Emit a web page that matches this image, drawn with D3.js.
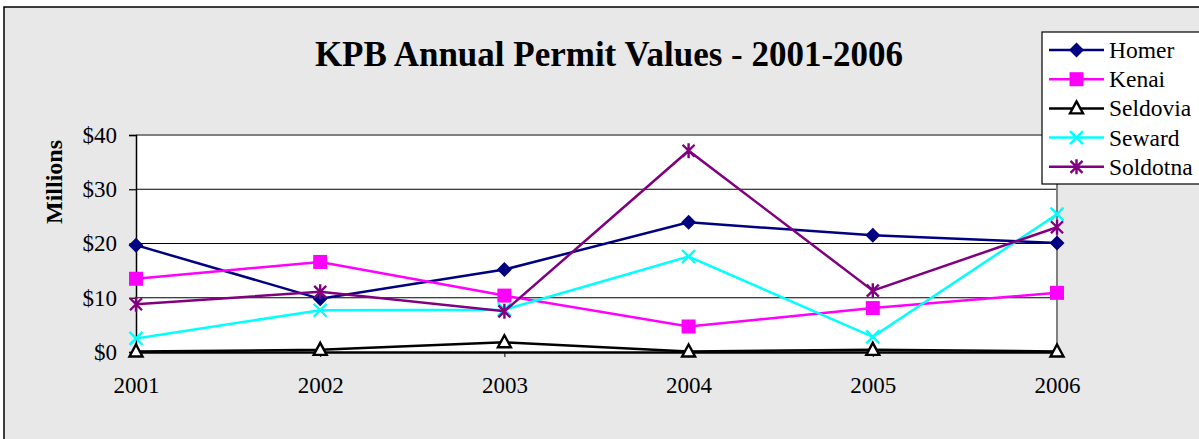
<!DOCTYPE html>
<html><head><meta charset="utf-8">
<script src="https://cdn.jsdelivr.net/npm/d3@7"></script>
<style>html,body{margin:0;padding:0;background:#fff;}svg{display:block;}</style>
</head><body>
<script>
const years = ["2001","2002","2003","2004","2005","2006"];
const seriesNames = ["Homer","Kenai","Seldovia","Seward","Soldotna"];
const homer    = [19.7, 9.8, 15.2, 23.9, 21.5, 20.1];
const kenai    = [13.5, 16.6, 10.4, 4.7, 8.1, 10.9];
const seldovia = [0.1, 0.4, 1.8, 0.1, 0.4, 0.1];
const seward   = [2.5, 7.7, 7.8, 17.6, 2.8, 25.4];
const soldotna = [8.8, 11.1, 7.5, 37.1, 11.3, 23.0];
const yTicks = [0, 10, 20, 30, 40];
const title = "KPB Annual Permit Values - 2001-2006";
const yTitle = "Millions";

const W = 1199, H = 439;
const colors = ["#000080","#FF00FF","#000000","#00FFFF","#800080"];
const markers = ["diamond","square","triangle","x","star"];
const data = [homer, kenai, seldovia, seward, soldotna];

const svg = d3.select("body").append("svg").attr("width", W).attr("height", H);
const font = "'Liberation Serif','Times New Roman',serif";

svg.append("rect").attr("x",4).attr("y",7).attr("width",W+10).attr("height",H+10)
  .attr("fill","#e8e8e8").attr("stroke","#000").attr("stroke-width",1.5);

const L = 136, R = 1057, T = 135, B = 352;
const x = d3.scalePoint().domain(years).range([L, R]);
const y = d3.scaleLinear().domain([0, 40]).range([B, T]);

svg.append("rect").attr("x",L).attr("y",T).attr("width",R-L).attr("height",B-T).attr("fill","#fff");

// gridlines
svg.append("g").selectAll("line").data(yTicks.filter(v => v>0 && v<40)).join("line")
  .attr("x1",L).attr("x2",R).attr("y1",d=>y(d)).attr("y2",d=>y(d))
  .attr("stroke","#000").attr("stroke-width",1);
// plot border top/right gray
svg.append("line").attr("x1",L).attr("x2",R).attr("y1",T).attr("y2",T).attr("stroke","#808080").attr("stroke-width",2);
svg.append("line").attr("x1",R).attr("x2",R).attr("y1",T).attr("y2",B).attr("stroke","#808080").attr("stroke-width",2);

// y axis
const yAxis = d3.axisLeft(y).tickValues(yTicks).tickSize(7).tickPadding(12).tickFormat(d => "$" + d);
const gy = svg.append("g").attr("transform",`translate(${L},0)`).call(yAxis);
gy.select(".domain").attr("stroke","#000").attr("stroke-width",1.5);
gy.selectAll(".tick line").attr("stroke","#000").attr("stroke-width",1.2);
gy.selectAll(".tick text").attr("font-family",font).attr("font-size",23).attr("fill","#000");

// x axis
const xAxis = d3.axisBottom(x).tickSize(5).tickPadding(20);
const gx = svg.append("g").attr("transform",`translate(0,${B})`).call(xAxis);
gx.select(".domain").attr("stroke","#000").attr("stroke-width",2.5);
gx.selectAll(".tick line").attr("stroke","#000").attr("stroke-width",1);
gx.selectAll(".tick text").attr("font-family",font).attr("font-size",23).attr("fill","#000");

// title
svg.append("text").attr("x",609).attr("y",66).attr("text-anchor","middle")
  .attr("font-family",font).attr("font-weight","bold").attr("font-size",35).text(title);
svg.append("text").attr("transform","translate(62,182) rotate(-90)").attr("text-anchor","middle")
  .attr("font-family",font).attr("font-weight","bold").attr("font-size",24).text(yTitle);

function drawMarker(g, type, cx, cy, color) {
  if (type === "diamond") {
    g.append("path").attr("d",`M${cx},${cy-7.5}L${cx+7.5},${cy}L${cx},${cy+7.5}L${cx-7.5},${cy}Z`).attr("fill",color);
  } else if (type === "square") {
    g.append("rect").attr("x",cx-7).attr("y",cy-7).attr("width",14).attr("height",14).attr("fill",color);
  } else if (type === "triangle") {
    g.append("path").attr("d",`M${cx},${cy-7}L${cx+6.5},${cy+5}L${cx-6.5},${cy+5}Z`).attr("fill","#fff").attr("stroke",color).attr("stroke-width",2.4);
  } else if (type === "x") {
    g.append("path").attr("d",`M${cx-6.5},${cy-6.5}L${cx+6.5},${cy+6.5}M${cx-6.5},${cy+6.5}L${cx+6.5},${cy-6.5}`).attr("stroke",color).attr("stroke-width",2.4);
  } else if (type === "star") {
    g.append("path").attr("d",`M${cx-6},${cy-6}L${cx+6},${cy+6}M${cx-6},${cy+6}L${cx+6},${cy-6}M${cx},${cy-7.5}L${cx},${cy+7.5}`).attr("stroke",color).attr("stroke-width",2.4);
  }
}

const line = d3.line().x((d,i)=>x(years[i])).y(d=>y(d));
const order = [0,1,3,4,2];
order.forEach(s => {
  const g = svg.append("g");
  g.append("path").datum(data[s]).attr("d",line).attr("fill","none").attr("stroke",colors[s]).attr("stroke-width",2.5);
  data[s].forEach((v,i) => drawMarker(g, markers[s], x(years[i]), y(v), colors[s]));
});

// legend
const lg = svg.append("g");
lg.append("rect").attr("x",1042).attr("y",32).attr("width",170).attr("height",152)
  .attr("fill","#fff").attr("stroke","#000").attr("stroke-width",1.2);
seriesNames.forEach((n,i) => {
  const cy = 50 + i*29.2;
  lg.append("line").attr("x1",1049).attr("x2",1104).attr("y1",cy).attr("y2",cy).attr("stroke",colors[i]).attr("stroke-width",2.5);
  drawMarker(lg, markers[i], 1076.5, cy, colors[i]);
  lg.append("text").attr("x",1109).attr("y",cy+8).attr("font-family",font).attr("font-size",23.5).text(n);
});
</script>
</body></html>
